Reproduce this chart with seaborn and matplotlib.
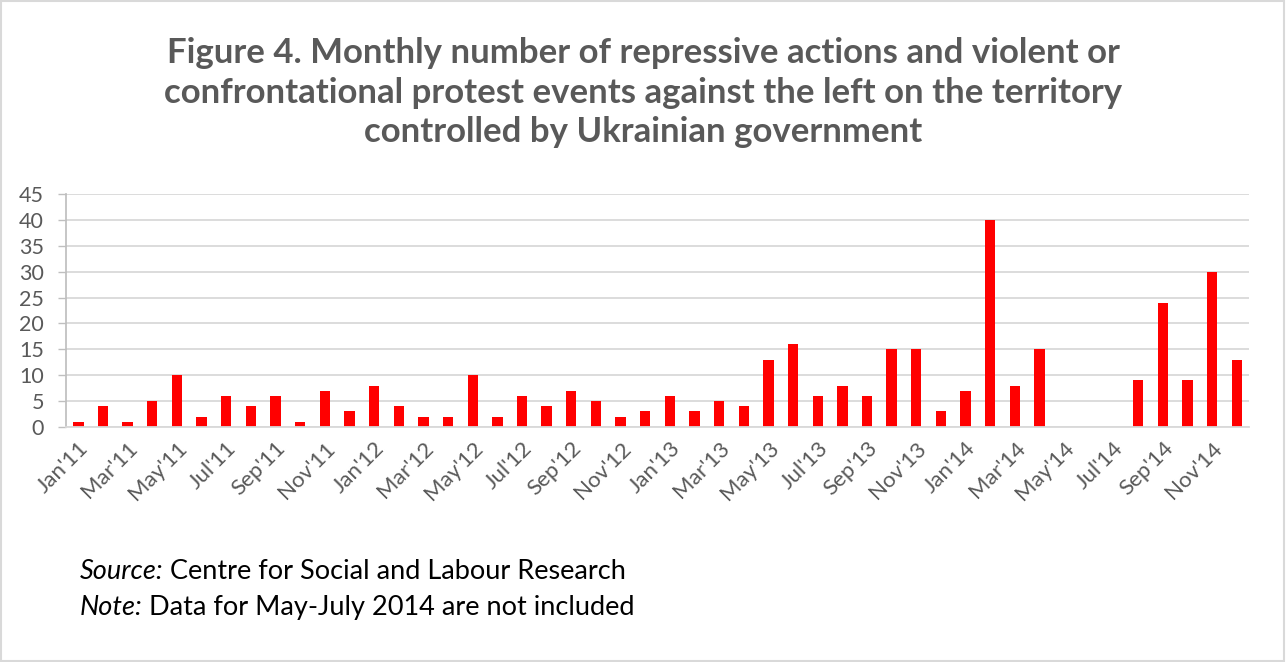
import numpy as np
import pandas as pd
import matplotlib
matplotlib.use("Agg")
import matplotlib.pyplot as plt
import seaborn as sns
from matplotlib.patches import Rectangle

months = ["Jan'11","Feb'11","Mar'11","Apr'11","May'11","Jun'11","Jul'11","Aug'11","Sep'11","Oct'11","Nov'11","Dec'11",
          "Jan'12","Feb'12","Mar'12","Apr'12","May'12","Jun'12","Jul'12","Aug'12","Sep'12","Oct'12","Nov'12","Dec'12",
          "Jan'13","Feb'13","Mar'13","Apr'13","May'13","Jun'13","Jul'13","Aug'13","Sep'13","Oct'13","Nov'13","Dec'13",
          "Jan'14","Feb'14","Mar'14","Apr'14","May'14","Jun'14","Jul'14","Aug'14","Sep'14","Oct'14","Nov'14","Dec'14"]
values = [1, 4, 1, 5, 10, 2, 6, 4, 6, 1, 7, 3,
          8, 4, 2, 2, 10, 2, 6, 4, 7, 5, 2, 3,
          6, 3, 5, 4, 13, 16, 6, 8, 6, 15, 15, 3,
          7, 40, 8, 15, np.nan, np.nan, np.nan, 9, 24, 9, 30, 13]
yticks = [0, 5, 10, 15, 20, 25, 30, 35, 40, 45]

df = pd.DataFrame({"month": months, "count": values})

sns.set_theme(style="white")
plt.rcParams['font.family'] = ['Lato', 'DejaVu Sans']

fig = plt.figure(figsize=(12.87, 6.62), dpi=100)
ax = fig.add_axes([0.0513, 0.355, 0.9192, 0.352])

sns.barplot(data=df.dropna(), x="month", y="count", order=months, color="#FF0000",
            saturation=1, width=0.42, ax=ax, edgecolor="none")

grey = "#595959"
ax.set_ylim(0, 45)
ax.set_xlim(-0.5, len(months) - 0.5)
ax.set_yticks(yticks)
ax.set_yticklabels([str(t) for t in yticks], fontsize=15.5, color=grey)
ax.yaxis.grid(True, color="#D9D9D9", linewidth=1.3)
ax.set_axisbelow(True)
ax.set_xticks(range(0, len(months), 2))
ax.set_xticklabels(months[::2], rotation=45, ha="right", rotation_mode="anchor",
                   fontsize=16, color=grey)
ax.tick_params(axis="x", length=0, pad=8)
ax.tick_params(axis="y", length=6, width=1, color="#BFBFBF", pad=10, left=True)
ax.set_xlabel("")
ax.set_ylabel("")
for s in ["top", "right"]:
    ax.spines[s].set_visible(False)
ax.spines["left"].set_color("#BFBFBF")
ax.spines["bottom"].set_color("#D9D9D9")
ax.spines["bottom"].set_linewidth(1.3)

fig.text(0.5, 0.86, "Figure 4. Monthly number of repressive actions and violent or\n"
         "confrontational protest events against the left on the territory\n"
         "controlled by Ukrainian government",
         ha="center", va="center", fontsize=25, fontweight="bold", color=grey,
         linespacing=1.3)

def italic_prefix(y, prefix, rest):
    t = fig.text(0.062, y, prefix, fontsize=19.5, style="italic", color="black", va="center")
    fig.canvas.draw()
    bb = t.get_window_extent()
    x1 = fig.transFigure.inverted().transform((bb.x1, bb.y0))[0]
    fig.text(x1 + 0.005, y, rest, fontsize=19.5, color="black", va="center")

italic_prefix(0.136, "Source:", "Centre for Social and Labour Research")
italic_prefix(0.083, "Note:", "Data for May-July 2014 are not included")

fig.patches.append(Rectangle((0.001, 0.002), 0.997, 0.996, transform=fig.transFigure,
                             fill=False, edgecolor="#D9D9D9", linewidth=1.5))

fig.savefig("out.png", dpi=100, facecolor="white")
